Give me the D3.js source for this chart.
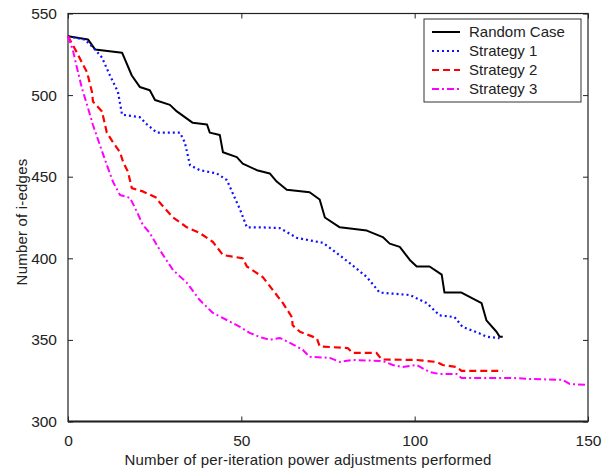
<!DOCTYPE html>
<html>
<head>
<meta charset="utf-8">
<script src="https://cdn.jsdelivr.net/npm/d3@7"></script>
<style>
  body { margin: 0; background: #fff; }
  text { font-family: Arial, "Liberation Sans", sans-serif; fill: #222; }
</style>
</head>
<body>
<svg id="chart" width="608" height="468"></svg>
<script>
// values: [adjustments, i-edges]
const randomCase = [
  [0,536],[5.8,534],[7.8,528],[15.6,526],[18.4,512],[20.7,505],[23.6,503],[25.1,497],
  [29.4,494],[31.4,490],[36,483],[40.1,482],[40.9,477],[43.8,475.5],[44.7,465],[48.7,462],
  [50.4,458],[54.5,454],[58.2,452],[60.2,447],[63.1,442],[69.7,440.5],[72.6,436],[74.1,425],
  [78.4,419],[86.2,417],[90.8,413],[92.8,409],[95.7,407],[98.6,399],[100.6,395],[104.3,395],
  [107.8,390],[108.6,379],[113.5,379],[119.3,372.5],[120.7,362],[123.6,355],[124.5,352],[125.4,352]
]
const strategy1 = [
  [0,536],[4.9,534],[7.8,528],[9.8,523],[12.1,512],[14.4,502],[15.6,488],[20.7,486.5],
  [22.8,482],[25.6,477],[32.3,477],[33.7,471],[35.2,457],[38,454],[42.9,452],[45.8,448],
  [49.6,430],[51.6,419],[55.3,419],[61.1,418.5],[66,412.5],[73.5,409.5],[76.4,405],[81.3,397],
  [86.2,388.5],[89.9,379],[98.6,377.5],[103.5,372.5],[107.2,365],[111.5,364],[113.8,358],
  [118.7,354],[120.7,352],[124.5,351]
]
const strategy2 = [
  [0,536],[2.6,526],[4,520],[5.5,514],[6.9,502],[7.2,496],[9.8,490],[11.2,477],[13,471],
  [15,465],[15.9,459],[17.3,453],[18.4,443],[21.6,441],[25.6,437],[26.5,434],[30.3,425],
  [34.3,419],[38,415.5],[41.8,410],[44.7,402],[50.4,400],[51.6,395],[56.2,388.5],[59.1,380.5],
  [62,372.5],[64.6,364],[64.8,359],[66.9,355],[71.8,351],[72.6,346],[80.7,345],[82.1,342],
  [89,342],[90.5,338],[100.6,337.7],[106.3,336.5],[108.1,334.6],[112.1,333.4],[113.5,331],[125.4,331]
]
const strategy3 = [
  [0,536],[1.4,527.6],[2.6,516.6],[4,504.4],[5.5,494],[7.2,481.7],[9.2,469.4],[11.2,457.2],
  [13,446.8],[15,438.8],[17.9,437],[19.9,428.4],[21.6,420.4],[23.6,415.5],[26.5,405],[30.3,392.8],
  [34.3,385],[38,374.4],[41.8,366.5],[45.8,362.2],[49.6,358],[52.4,354.3],[55.3,351.8],[58.2,350],
  [61.1,351.2],[64,348.2],[67.7,344],[69.7,339.6],[75.5,339],[78.4,336.5],[82.1,337.7],[90.8,337.1],
  [93.7,334.6],[96.5,333.4],[100.6,334.6],[104.3,330.3],[107.2,329.1],[112.1,329.1],[113.5,326.7],
  [128.2,326.7],[133.1,326.1],[142.7,325.5],[144.7,323],[149.6,322.4]
]
const seriesNames = ['Random Case', 'Strategy 1', 'Strategy 2', 'Strategy 3']
const xTicks = [0, 50, 100, 150]
const yTicks = [300, 350, 400, 450, 500, 550]

const svg = d3.select('#chart')
const plotL = 68, plotR = 588, plotT = 13.5, plotB = 421.5

const x = d3.scaleLinear().domain([0, 150]).range([plotL, plotR])
const y = d3.scaleLinear().domain([300, 550]).range([plotB, plotT])

const styles = [
  {color: '#000000', dash: null, width: 2},
  {color: '#1010ff', dash: '2,3', width: 2.2},
  {color: '#ff0000', dash: '7,4', width: 2.2},
  {color: '#ff00ff', dash: '7,3,2,3', width: 2}
]

// frame with inward ticks on all four sides
svg.append('rect')
    .attr('x', plotL).attr('y', plotT)
    .attr('width', plotR - plotL).attr('height', plotB - plotT)
    .attr('fill', '#fff')
    .attr('stroke', '#222')
    .attr('stroke-width', 1.2)

svg.append('line')
    .attr('x1', plotL).attr('x2', plotR)
    .attr('y1', plotB).attr('y2', plotB)
    .attr('stroke', '#222').attr('stroke-width', 2)

const tickLen = 5
svg.append('g')
    .attr('transform', `translate(0,${plotB})`)
    .call(d3.axisBottom(x).tickValues(xTicks).tickSizeInner(-tickLen).tickSizeOuter(0).tickPadding(tickLen + 8))
    .call(g => g.select('.domain').remove())
    .call(g => g.selectAll('text').style('font-size', '15.5px').attr('fill', '#222'))
svg.append('g')
    .attr('transform', `translate(0,${plotT})`)
    .call(d3.axisTop(x).tickValues(xTicks).tickSizeInner(-tickLen).tickSizeOuter(0).tickFormat(''))
    .call(g => g.select('.domain').remove())
svg.append('g')
    .attr('transform', `translate(${plotL},0)`)
    .call(d3.axisLeft(y).tickValues(yTicks).tickSizeInner(-tickLen).tickSizeOuter(0).tickPadding(tickLen + 6))
    .call(g => g.select('.domain').remove())
    .call(g => g.selectAll('text').style('font-size', '15.5px').attr('fill', '#222'))
svg.append('g')
    .attr('transform', `translate(${plotR},0)`)
    .call(d3.axisRight(y).tickValues(yTicks).tickSizeInner(-tickLen).tickSizeOuter(0).tickFormat(''))
    .call(g => g.select('.domain').remove())
svg.selectAll('.tick line').attr('stroke', '#222')

// axis titles
svg.append('text')
    .attr('x', 308).attr('y', 465)
    .attr('text-anchor', 'middle')
    .style('font-size', '15px')
    .style('letter-spacing', '0.2px')
    .text('Number of per-iteration power adjustments performed')
svg.append('text')
    .attr('transform', 'translate(27,222) rotate(-90)')
    .attr('text-anchor', 'middle')
    .style('font-size', '15px')
    .style('letter-spacing', '0.2px')
    .text('Number of i-edges')

// series
const line = d3.line().x(d => x(d[0])).y(d => y(d[1]))
const allSeries = [randomCase, strategy1, strategy2, strategy3]
allSeries.forEach((data, i) => {
    svg.append('path')
        .datum(data)
        .attr('d', line)
        .attr('fill', 'none')
        .attr('stroke', styles[i].color)
        .attr('stroke-width', styles[i].width)
        .attr('stroke-dasharray', styles[i].dash)
        .attr('stroke-linejoin', 'round')
})

// legend
const legend = svg.append('g').attr('transform', 'translate(424,19)')
legend.append('rect')
    .attr('width', 157).attr('height', 83)
    .attr('fill', '#fff')
    .attr('stroke', '#333')
    .attr('stroke-width', 1)
seriesNames.forEach((name, i) => {
    const cy = 13 + i * 19
    legend.append('line')
        .attr('x1', 8).attr('x2', 36)
        .attr('y1', cy).attr('y2', cy)
        .attr('stroke', styles[i].color)
        .attr('stroke-width', styles[i].width)
        .attr('stroke-dasharray', styles[i].dash)
    legend.append('text')
        .attr('x', 45).attr('y', cy + 5)
        .style('font-size', '15px')
        .text(name)
})
</script>
</body>
</html>
